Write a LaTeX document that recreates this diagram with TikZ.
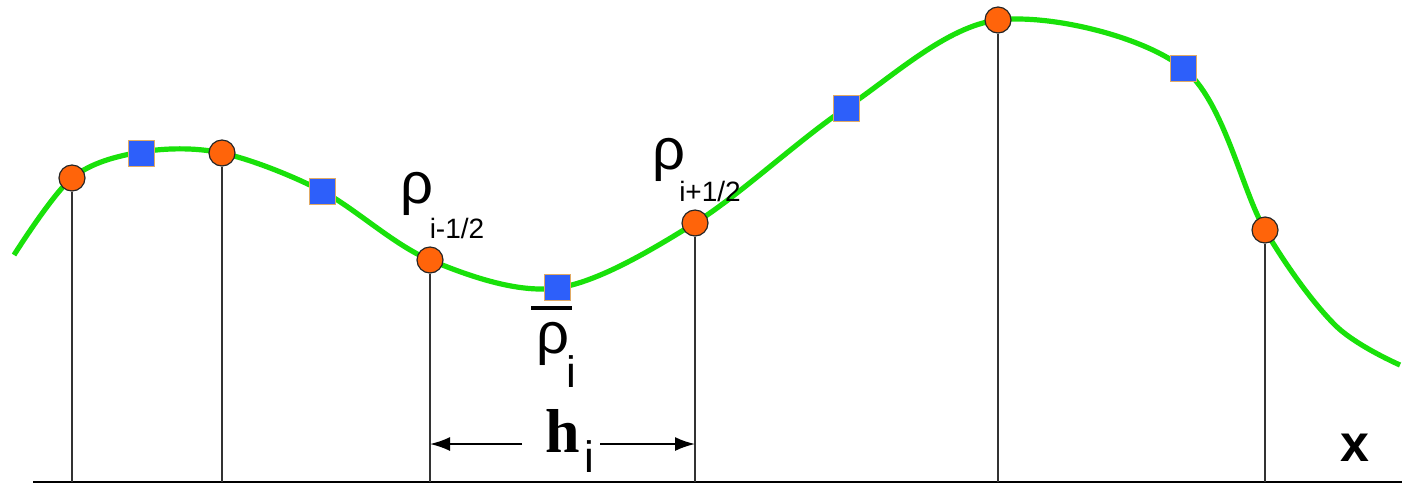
\documentclass[tikz,border=0pt]{standalone}
\usepackage{fontspec}
\setmainfont{Liberation Serif}
\setsansfont{Liberation Sans}
\usetikzlibrary{arrows.meta}
\definecolor{curvegreen}{RGB}{25,225,10}
\definecolor{ptorange}{RGB}{255,100,10}
\definecolor{ptblue}{RGB}{45,95,250}
\definecolor{cellrim}{RGB}{225,170,100}
\tikzset{every node/.style={font=\sffamily},line cap=round,line join=round,
  face/.style={circle,draw=black!85,fill=ptorange,line width=0.6pt,minimum size=13pt,inner sep=0pt},
  cell/.style={rectangle,draw=cellrim,fill=ptblue,line width=0.5pt,minimum size=13pt,inner sep=0pt},
  stem/.style={line width=0.9pt,black!80},
  big/.style={font=\sffamily\fontsize{29}{29}\selectfont,inner sep=0pt},
  sub/.style={font=\sffamily\fontsize{14}{14}\selectfont,inner sep=0pt}}

\begin{document}
\begin{tikzpicture}[x=0.5pt,y=-0.5pt]
  \path[use as bounding box] (0,0) rectangle (1402,484);
  % axis
  \coordinate (axL) at (33,482);
  \coordinate (axR) at (1402,482);
  \draw[line width=1pt] (axL)--(axR);
  % the profile
  \draw[curvegreen,line width=2.6pt] plot[smooth,tension=0.55] coordinates
    {(14,255) (72,178) (141,152) (222,153) (322,191) (430,260) (557,288)
     (695,223) (846,108) (998,20) (1183,68) (1265,230) (1335,325) (1400,365)};
  % cell edges
  \node[face] (f1) at (72,178) {};
  \node[face] (f2) at (222,153) {};
  \node[face] (f3) at (430,260) {};
  \node[face] (f4) at (695,223) {};
  \node[face] (f5) at (998,20) {};
  \node[face] (f6) at (1265,230) {};
  \foreach \f in {f1,f2,f3,f4,f5,f6}
    \draw[stem] (\f.south)--(\f |- axL);
  % cell averages
  \node[cell] (c1) at (141,153) {};
  \node[cell] (c2) at (322,191) {};
  \node[cell] (c3) at (557,287) {};
  \node[cell] (c4) at (846,108) {};
  \node[cell] (c5) at (1183,68) {};
  % labels
  \node[big] (rhoL) at (417,194) {ρ};
  \node[sub] (subL) at (457,228) {i-1/2};
  \node[big] (rhoR) at (669,160) {ρ};
  \node[sub] (subR) at (710,191) {i+1/2};
  \draw[line width=1.6pt] (531,308)--(572,308);
  \node[big] (rhoM) at (553,344) {ρ};
  \node[font=\sffamily\fontsize{22}{22}\selectfont,inner sep=0pt] (subM) at (571,372) {i};
  \node[font=\rmfamily\bfseries\fontsize{31}{31}\selectfont,inner sep=0pt] (hlab) at (563,431) {h};
  \node[font=\sffamily\fontsize{22}{22}\selectfont,inner sep=0pt] (hsub) at (589,457) {i};
  \coordinate (hL) at (522,444);
  \coordinate (hR) at (600,444);
  \draw[line width=1pt,-{Latex[length=10pt,width=7pt]}] (hL)--(f3 |- hL);
  \draw[line width=1pt,-{Latex[length=10pt,width=7pt]}] (hR)--(f4 |- hR);
  \node[font=\sffamily\bfseries\fontsize{26}{26}\selectfont,inner sep=0pt] (xlab) at (1355,448) {x};
\end{tikzpicture}
\end{document}
